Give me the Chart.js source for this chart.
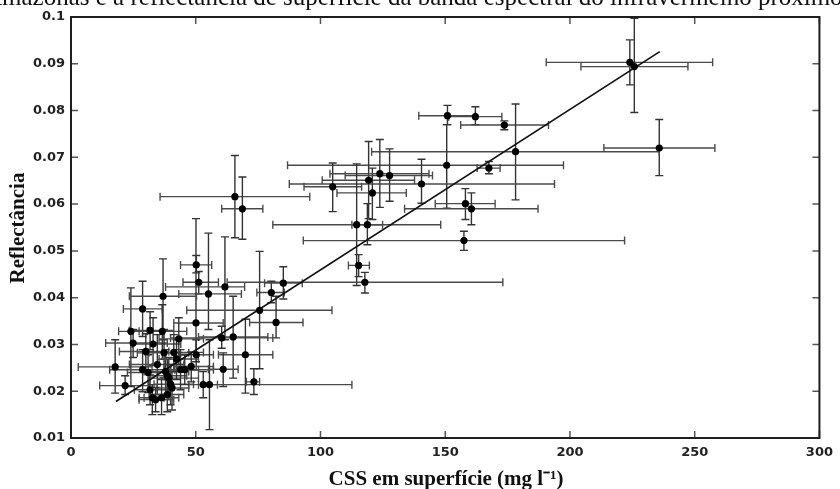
<!DOCTYPE html>
<html>
<head>
<meta charset="utf-8">
<script src="https://cdn.jsdelivr.net/npm/chart.js@4.4.0/dist/chart.umd.min.js"></script>
<style>
    html, body { margin: 0; padding: 0; background: #fff; overflow: hidden; }
    #wrap { width: 840px; height: 489px; }
</style>
</head>
<body>
<div id="wrap"><canvas id="cssChart" width="840" height="489"></canvas></div>
<script>
// Surface suspended sediment (mg/l) against NIR reflectance, with min/max ranges per station
const css = [
    224.0, 225.8, 235.8, 150.9, 162.1, 173.7, 178.2, 150.6, 167.5, 104.9,
    119.3, 120.8, 123.8, 127.7, 140.5, 158.1, 160.5, 114.5, 118.8, 157.5,
    115.3, 117.8, 65.7, 68.7, 50.2, 51.2, 55.1, 61.7, 80.3, 85.1,
    75.6, 82.2, 60.4, 65.0, 50.2, 69.9, 61.0, 73.3, 53.0, 55.5,
    50.1, 17.7, 21.7, 24.0, 24.9, 28.7, 31.7, 30.0, 32.9, 28.7,
    30.9, 31.7, 32.6, 34.6, 36.9, 36.6, 37.3, 37.9, 38.6, 39.2,
    39.9, 40.5, 38.6, 41.2, 43.2, 42.3, 43.9, 45.6, 48.2, 33.9,
    36.3
];
const refl = [
    0.0903, 0.0894, 0.0720, 0.0789, 0.0787, 0.0769, 0.0712, 0.0683, 0.0677, 0.0637,
    0.0651, 0.0624, 0.0665, 0.0661, 0.0643, 0.0601, 0.0590, 0.0556, 0.0556, 0.0522,
    0.0469, 0.0433, 0.0616, 0.0590, 0.0470, 0.0433, 0.0408, 0.0423, 0.0411, 0.0431,
    0.0373, 0.0347, 0.0314, 0.0316, 0.0278, 0.0278, 0.0247, 0.0220, 0.0214, 0.0214,
    0.0346, 0.0252, 0.0212, 0.0328, 0.0303, 0.0376, 0.0330, 0.0285, 0.0301, 0.0246,
    0.0240, 0.0203, 0.0186, 0.0257, 0.0403, 0.0328, 0.0282, 0.0242, 0.0233, 0.0228,
    0.0215, 0.0207, 0.0193, 0.0283, 0.0312, 0.0269, 0.0246, 0.0246, 0.0253, 0.0182,
    0.0186
];
const cssMin = [
    190.5, 204.4, 213.6, 139.4, 151.4, 156.2, 120.5, 86.8, 162.8, 93.4,
    100.7, 106.6, 103.8, 109.9, 87.5, 146.0, 133.7, 80.9, 112.6, 93.1,
    111.2, 62.6, 35.7, 60.4, 43.9, 44.9, 43.2, 37.9, 74.5, 77.6,
    46.4, 71.6, 39.9, 51.1, 43.6, 59.1, 55.1, 70.3, 47.2, 51.1,
    41.2, 2.9, 11.5, 19.1, 13.9, 21.0, 23.4, 19.4, 24.6, 15.5,
    22.6, 25.4, 27.3, 23.4, 23.4, 27.3, 26.6, 29.3, 31.3, 31.3,
    33.3, 34.5, 31.3, 31.3, 35.3, 35.3, 37.3, 40.0, 41.2, 27.3,
    29.3
];
const cssMax = [
    257.2, 247.3, 258.1, 162.1, 172.7, 191.4, 235.8, 197.4, 172.0, 116.5,
    137.7, 134.4, 143.5, 144.9, 193.8, 170.0, 187.2, 148.2, 124.9, 221.9,
    119.6, 173.1, 95.7, 76.9, 56.4, 59.1, 68.3, 69.6, 85.5, 92.7,
    104.6, 93.0, 80.9, 78.9, 57.1, 80.9, 67.0, 75.6, 58.7, 112.6,
    61.0, 32.5, 31.3, 30.6, 38.6, 36.6, 41.2, 39.2, 44.0, 41.6,
    39.2, 39.2, 37.3, 45.2, 50.3, 46.4, 47.2, 47.2, 46.4, 51.1,
    49.1, 47.2, 45.2, 53.1, 53.1, 51.1, 51.1, 57.1, 57.1, 41.2,
    43.2
];
const reflMin = [
    0.0855, 0.0796, 0.0661, 0.0770, 0.0770, 0.0759, 0.0609, 0.0591, 0.0665, 0.0584,
    0.0569, 0.0567, 0.0593, 0.0606, 0.0602, 0.0567, 0.0556, 0.0426, 0.0513, 0.0501,
    0.0445, 0.0410, 0.0528, 0.0525, 0.0453, 0.0408, 0.0332, 0.0310, 0.0389, 0.0397,
    0.0248, 0.0314, 0.0292, 0.0228, 0.0246, 0.0196, 0.0210, 0.0193, 0.0186, 0.0118,
    0.0263, 0.0196, 0.0193, 0.0210, 0.0272, 0.0317, 0.0289, 0.0246, 0.0255, 0.0199,
    0.0197, 0.0171, 0.0150, 0.0193, 0.0310, 0.0268, 0.0229, 0.0193, 0.0193, 0.0182,
    0.0171, 0.0160, 0.0156, 0.0242, 0.0257, 0.0225, 0.0203, 0.0214, 0.0220, 0.0156,
    0.0150
];
const reflMax = [
    0.0951, 0.0997, 0.0781, 0.0811, 0.0808, 0.0778, 0.0814, 0.0770, 0.0691, 0.0688,
    0.0734, 0.0677, 0.0738, 0.0718, 0.0696, 0.0633, 0.0624, 0.0686, 0.0601, 0.0542,
    0.0492, 0.0454, 0.0704, 0.0658, 0.0490, 0.0456, 0.0538, 0.0530, 0.0435, 0.0466,
    0.0499, 0.0403, 0.0339, 0.0403, 0.0310, 0.0354, 0.0282, 0.0248, 0.0242, 0.0310,
    0.0569, 0.0310, 0.0233, 0.0421, 0.0332, 0.0435, 0.0370, 0.0323, 0.0357, 0.0289,
    0.0278, 0.0235, 0.0214, 0.0321, 0.0483, 0.0385, 0.0332, 0.0289, 0.0268, 0.0272,
    0.0257, 0.0242, 0.0225, 0.0321, 0.0357, 0.0310, 0.0289, 0.0278, 0.0284, 0.0208,
    0.0225
];

// linear fit, end points
const fitCss = [18, 236];
const fitRefl = [0.0178, 0.0926];

const xTicks = [0, 50, 100, 150, 200, 250, 300];
const yTicks = [0.01, 0.02, 0.03, 0.04, 0.05, 0.06, 0.07, 0.08, 0.09, 0.1];

const headline = "Amazonas e a reflectância de superfície da banda espectral do infravermelho próximo";
const xTitle = "CSS em superfície (mg l\u207B\u00B9)";
const yTitle = "Reflectância";

// min/max whiskers drawn under the markers
const errorBars = {
    id: "errorBars",
    beforeDatasetsDraw(chart) {
        const { ctx, chartArea: a, scales: { x, y } } = chart;
        const cap = 4;
        ctx.save();
        ctx.beginPath();
        ctx.rect(a.left, a.top, a.right - a.left, a.bottom - a.top);
        ctx.clip();
        ctx.lineWidth = 1.4;
        css.forEach((v, i) => {
            const px = x.getPixelForValue(v);
            const py = y.getPixelForValue(refl[i]);
            const x0 = x.getPixelForValue(cssMin[i]);
            const x1 = x.getPixelForValue(cssMax[i]);
            const y0 = y.getPixelForValue(reflMin[i]);
            const y1 = y.getPixelForValue(reflMax[i]);
            ctx.strokeStyle = "#4a4a4a";
            ctx.beginPath();
            ctx.moveTo(x0, py); ctx.lineTo(x1, py);
            ctx.moveTo(x0, py - cap); ctx.lineTo(x0, py + cap);
            ctx.moveTo(x1, py - cap); ctx.lineTo(x1, py + cap);
            ctx.stroke();
            ctx.strokeStyle = "#333";
            ctx.beginPath();
            ctx.moveTo(px, y0); ctx.lineTo(px, y1);
            ctx.moveTo(px - cap, y0); ctx.lineTo(px + cap, y0);
            ctx.moveTo(px - cap, y1); ctx.lineTo(px + cap, y1);
            ctx.stroke();
        });
        ctx.restore();
    }
};

// box frame, inward ticks and the text around the plot
const frame = {
    id: "frame",
    afterDraw(chart) {
        const { ctx, chartArea: a, scales: { x, y } } = chart;
        const tl = 7;
        ctx.save();
        ctx.strokeStyle = "#555";
        ctx.lineWidth = 1.5;
        ctx.beginPath();
        xTicks.forEach(v => {
            const px = x.getPixelForValue(v);
            ctx.moveTo(px, a.bottom); ctx.lineTo(px, a.bottom - tl);
            ctx.moveTo(px, a.top); ctx.lineTo(px, a.top + tl);
        });
        yTicks.forEach(v => {
            const py = y.getPixelForValue(v);
            ctx.moveTo(a.left, py); ctx.lineTo(a.left + tl, py);
            ctx.moveTo(a.right, py); ctx.lineTo(a.right - tl, py);
        });
        ctx.stroke();
        ctx.strokeStyle = "#1e1e1e";
        ctx.lineWidth = 2;
        ctx.strokeRect(a.left, a.top, a.right - a.left, a.bottom - a.top);

        // caption line running off the top edge
        ctx.fillStyle = "#111";
        ctx.textBaseline = "alphabetic";
        ctx.font = '25px "Liberation Serif"';
        ctx.textAlign = "left";
        ctx.fillText(headline, -16, 5);

        ctx.font = 'bold 21px "Liberation Serif"';
        ctx.textAlign = "center";
        ctx.fillText(xTitle, 446, 485);

        ctx.translate(24, 228);
        ctx.rotate(-Math.PI / 2);
        ctx.fillText(yTitle, 0, 0);
        ctx.restore();
    }
};

const ctx = document.getElementById("cssChart").getContext("2d");

new Chart(ctx, {
    type: "scatter",
    data: {
        datasets: [
            {
                data: css.map((v, i) => ({ x: v, y: refl[i] })),
                pointRadius: 3.6,
                pointBackgroundColor: "#000",
                pointBorderWidth: 0,
                order: 0
            },
            {
                type: "line",
                data: fitCss.map((v, i) => ({ x: v, y: fitRefl[i] })),
                borderColor: "#111",
                borderWidth: 1.7,
                pointRadius: 0,
                fill: false,
                order: 1
            }
        ]
    },
    options: {
        responsive: false,
        animation: false,
        layout: { padding: { left: 0, right: 12, top: 17, bottom: 0 }, autoPadding: false },
        plugins: { legend: { display: false }, tooltip: { enabled: false } },
        scales: {
            x: {
                type: "linear",
                min: 0,
                max: 300,
                afterBuildTicks: s => { s.ticks = xTicks.map(v => ({ value: v })); },
                afterFit: s => { s.height = 51; },
                grid: { display: false, drawTicks: false },
                border: { display: false },
                ticks: {
                    padding: 7,
                    maxRotation: 0,
                    color: "#222",
                    font: { family: "DejaVu Sans", size: 13, weight: "bold" },
                    callback: v => String(v)
                }
            },
            y: {
                type: "linear",
                min: 0.01,
                max: 0.1,
                afterBuildTicks: s => { s.ticks = yTicks.map(v => ({ value: v })); },
                afterFit: s => { s.width = 71; },
                grid: { display: false, drawTicks: false },
                border: { display: false },
                ticks: {
                    padding: 6,
                    color: "#222",
                    font: { family: "DejaVu Sans", size: 13, weight: "bold" },
                    callback: v => String(+v.toFixed(2))
                }
            }
        }
    },
    plugins: [errorBars, frame]
});
</script>
</body>
</html>
